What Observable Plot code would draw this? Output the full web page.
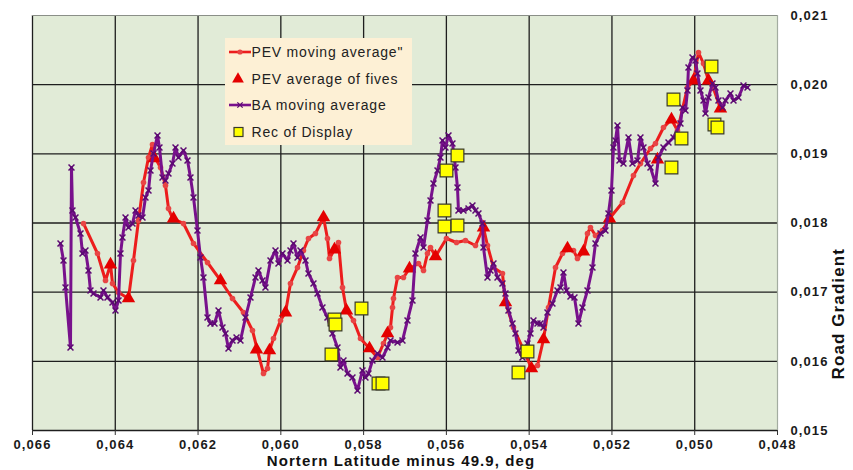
<!DOCTYPE html>
<html>
<head>
<meta charset="utf-8">
<script src="https://cdn.jsdelivr.net/npm/d3@7"></script>
<script src="https://cdn.jsdelivr.net/npm/@observablehq/plot@0.6"></script>
<style>
  body { margin: 0; background: #fff; }
  #wrap { position: relative; width: 853px; height: 470px; overflow: hidden; }
  #wrap > svg { display: block; }
</style>
</head>
<body>
<div id="wrap"></div>
<script>
// ---- data: [northern latitude minus 49.9 (deg), road gradient] ----
const pevMovingAverage = [
  [0.064768,0.017993],[0.06443,0.017559],[0.064236,0.017169],[0.064115,0.0174],[0.064067,0.017126],
  [0.063922,0.016995],[0.063681,0.016909],[0.06356,0.017458],[0.063439,0.018036],[0.063318,0.018586],
  [0.063197,0.018947],[0.063101,0.019135],[0.063028,0.018933],[0.062907,0.018803],[0.062787,0.018542],
  [0.062714,0.01821],[0.062618,0.018065],[0.062352,0.017993],[0.06211,0.017704],[0.061772,0.017429],
  [0.061458,0.017169],[0.061168,0.016909],[0.060902,0.016706],[0.060685,0.016446],[0.060564,0.016157],
  [0.060419,0.015824],[0.060322,0.015897],[0.060274,0.016157],[0.060177,0.01633],[0.060008,0.016591],
  [0.059887,0.016706],[0.059767,0.017126],[0.059597,0.017357],[0.059453,0.017603],[0.059332,0.017776],
  [0.059163,0.017848],[0.058969,0.01808],[0.058873,0.017776],[0.058824,0.017487],[0.058704,0.017617],
  [0.058607,0.017718],[0.05851,0.017068],[0.058414,0.016735],[0.058244,0.016591],[0.058075,0.01633],
  [0.057858,0.016186],[0.057665,0.016056],[0.05752,0.016258],[0.057351,0.016489],[0.057302,0.016778],
  [0.057278,0.016909],[0.057181,0.017212],[0.057037,0.017212],[0.056892,0.017342],[0.056674,0.017415],
  [0.056553,0.017313],[0.056457,0.017559],[0.056384,0.017646],[0.056263,0.017516],[0.055998,0.017776],
  [0.055756,0.017718],[0.055539,0.017747],[0.055297,0.017675],[0.055104,0.017935],[0.055007,0.017675],
  [0.054862,0.017357],[0.054645,0.01727],[0.054572,0.016851],[0.054379,0.016489],[0.054162,0.0162],
  [0.053944,0.015897],[0.053799,0.01594],[0.053654,0.016316],[0.053533,0.016778],[0.053364,0.017357],
  [0.053195,0.017559],[0.053098,0.017617],[0.052929,0.017603],[0.052833,0.017487],[0.052688,0.017588],
  [0.052591,0.017848],[0.052519,0.017935],[0.052398,0.017819],[0.052229,0.017892],[0.052059,0.018065],
  [0.051745,0.018297],[0.05148,0.018687],[0.051311,0.01886],[0.051069,0.019077],[0.050948,0.01915],
  [0.050755,0.019381],[0.050562,0.019496],[0.050417,0.019337],[0.050175,0.019959],[0.05003,0.02006],
  [0.049909,0.020465],[0.049788,0.020306],[0.049667,0.02006],[0.049547,0.019945],[0.049378,0.019655]
];

const pevAverageOfFives = [
  [0.064115,0.0174],[0.063681,0.016909],[0.063052,0.018933],[0.062593,0.018065],[0.061458,0.017169],
  [0.060588,0.016171],[0.060274,0.016157],[0.059887,0.016706],[0.058969,0.01808],[0.058704,0.017617],
  [0.058414,0.016735],[0.057858,0.016186],[0.057423,0.016403],[0.056892,0.017342],[0.056263,0.017516],
  [0.055104,0.017935],[0.054572,0.016851],[0.053944,0.015897],[0.053654,0.016316],[0.053074,0.017632],
  [0.052688,0.017588],[0.052059,0.018065],[0.0509,0.018918],[0.050562,0.019496],[0.05003,0.02006],
  [0.049667,0.02006],[0.049378,0.019655]
];

const baMovingAverage = [
  [0.065324,0.017704],[0.065251,0.017458],[0.065203,0.017068],[0.065082,0.0162],[0.065058,0.018803],
  [0.065034,0.018181],[0.064961,0.01808],[0.06484,0.017848],[0.064792,0.017559],[0.06472,0.017603],
  [0.064647,0.017313],[0.064599,0.017024],[0.064526,0.016981],[0.064357,0.016923],[0.064285,0.017024],
  [0.064188,0.016923],[0.064067,0.016851],[0.063995,0.016735],[0.063922,0.01688],[0.063874,0.017559],
  [0.063826,0.01779],[0.063753,0.01808],[0.063681,0.017935],[0.063584,0.017993],[0.063511,0.018181],
  [0.063439,0.018109],[0.063342,0.01808],[0.06327,0.018369],[0.063197,0.01847],[0.063149,0.018759],
  [0.063077,0.019005],[0.06298,0.019265],[0.062932,0.019092],[0.062859,0.018658],[0.062787,0.018615],
  [0.062714,0.018716],[0.062618,0.01886],[0.062545,0.019092],[0.062473,0.018947],[0.062352,0.019048],
  [0.062255,0.018904],[0.062183,0.018658],[0.06211,0.018369],[0.062014,0.017892],[0.061941,0.017501],
  [0.061869,0.017212],[0.061772,0.016634],[0.0617,0.016547],[0.061603,0.016547],[0.061506,0.016735],
  [0.06141,0.016489],[0.061337,0.016403],[0.061265,0.016186],[0.061168,0.016301],[0.061071,0.016345],
  [0.060975,0.016301],[0.060854,0.016634],[0.060733,0.016923],[0.060612,0.017212],[0.06054,0.017313],
  [0.060443,0.017169],[0.060371,0.017068],[0.06025,0.017458],[0.060129,0.017603],[0.060057,0.017415],
  [0.05996,0.017559],[0.059839,0.017458],[0.059767,0.017603],[0.059694,0.017704],[0.059597,0.017501],
  [0.059525,0.017603],[0.059404,0.017458],[0.059332,0.01727],[0.059211,0.017126],[0.059114,0.016981],
  [0.058994,0.016778],[0.058873,0.016634],[0.058752,0.016403],[0.058631,0.0162],[0.058559,0.015911],
  [0.058486,0.016012],[0.058389,0.015824],[0.058269,0.015766],[0.058148,0.015579],[0.058027,0.015868],
  [0.057955,0.015766],[0.057882,0.015824],[0.057786,0.016012],[0.057665,0.016113],[0.057544,0.016056],
  [0.057423,0.0162],[0.057351,0.016301],[0.057181,0.016272],[0.057061,0.016301],[0.05694,0.016591],
  [0.056819,0.01688],[0.056747,0.017559],[0.056626,0.01779],[0.056553,0.017646],[0.056457,0.018036],
  [0.056384,0.018325],[0.056312,0.018571],[0.056215,0.018759],[0.056143,0.018947],[0.056094,0.019193],
  [0.056022,0.019092],[0.055949,0.019265],[0.055853,0.01915],[0.05578,0.018803],[0.055732,0.018513],
  [0.055708,0.018181],[0.055587,0.018181],[0.055466,0.01821],[0.05537,0.018253],[0.055297,0.018181],
  [0.055225,0.018138],[0.055128,0.017993],[0.055104,0.017646],[0.055007,0.017212],[0.054935,0.017313],
  [0.054862,0.017415],[0.054765,0.017212],[0.054645,0.017126],[0.054572,0.016981],[0.0545,0.016735],
  [0.054403,0.016547],[0.054331,0.016403],[0.054258,0.016157],[0.054162,0.016056],[0.054041,0.016258],
  [0.053968,0.016403],[0.053896,0.016591],[0.053799,0.016547],[0.053727,0.016547],[0.053654,0.016489],
  [0.053558,0.016706],[0.053437,0.016836],[0.053316,0.017024],[0.053243,0.017068],[0.053171,0.017284],
  [0.053098,0.017024],[0.053002,0.016938],[0.052905,0.016923],[0.052809,0.016547],[0.052712,0.016778],
  [0.052591,0.017024],[0.05247,0.017357],[0.052398,0.017704],[0.052277,0.017848],[0.052156,0.017892],
  [0.052084,0.018138],[0.052011,0.01847],[0.051963,0.019092],[0.051915,0.019193],[0.051866,0.01941],
  [0.051818,0.018904],[0.051721,0.01886],[0.0516,0.019236],[0.051504,0.01886],[0.051383,0.018904],
  [0.051311,0.019236],[0.051238,0.019092],[0.051141,0.01886],[0.051069,0.018803],[0.050948,0.018571],
  [0.050876,0.018947],[0.050755,0.019092],[0.050634,0.019164],[0.050513,0.019236],[0.050344,0.019439],
  [0.050296,0.01967],[0.050223,0.019627],[0.050175,0.019916],[0.050151,0.020248],[0.050054,0.020393],
  [0.049982,0.020349],[0.049934,0.020161],[0.049861,0.019916],[0.049788,0.019771],[0.04974,0.019583],
  [0.049667,0.019815],[0.049571,0.020017],[0.049498,0.019959],[0.049426,0.019771],[0.049329,0.01967],
  [0.049257,0.019771],[0.049136,0.019872],[0.049063,0.019771],[0.048943,0.019815],[0.048822,0.019988],
  [0.048725,0.019959]
];

const recOfDisplay = [
  [0.058704,0.016605],[0.058679,0.016533],[0.058776,0.016099],[0.058051,0.016764],[0.05764,0.01568],
  [0.057544,0.01568],[0.055998,0.018759],[0.055732,0.018976],[0.056046,0.018181],[0.056046,0.01795],
  [0.055732,0.017964],[0.054258,0.015839],[0.054041,0.016142],[0.050562,0.018803],[0.050513,0.019786],
  [0.05032,0.019222],[0.049595,0.020263],[0.049523,0.019424],[0.04945,0.019381]
];

const xTicks = [0.066, 0.064, 0.062, 0.060, 0.058, 0.056, 0.054, 0.052, 0.050, 0.048];
const yTicks = [0.015, 0.016, 0.017, 0.018, 0.019, 0.020, 0.021];
const xTitle = "Nortern Latitude minus 49.9, deg";
const yTitle = "Road Gradient";
const legendLabels = ["PEV moving average\"", "PEV average of fives", "BA moving average", "Rec of Display"];

// ---- styling ----
const RED = "#ec1d1d", RED_DOT = "#e84545", TRI = "#e40000";
const PURPLE = "#78118c", PURPLE_MARK = "#5c0a72";
const BG = "#e1ebd7", GRID = "#1e1e1e";
const FONT = "'Liberation Sans', Arial, Helvetica, sans-serif";
const fmt = d => d3.format(".3f")(d).replace(".", ",");
const X = d => d[0], Y = d => d[1];

const chart = Plot.plot({
  width: 853, height: 470,
  marginLeft: 32, marginRight: 76, marginTop: 15, marginBottom: 40,
  style: { fontFamily: FONT, fontSize: "13px", fontWeight: "bold", color: "#1a1a1a", background: "#fff", letterSpacing: "1.1px" },
  x: { domain: [0.066, 0.048] },
  y: { domain: [0.015, 0.021] },
  marks: [
    Plot.frame({ fill: BG, stroke: null }),
    Plot.gridX(xTicks.slice(0, -1), { stroke: GRID, strokeOpacity: 1, strokeWidth: 1.3 }),
    Plot.gridY(yTicks.slice(0, -1), { stroke: GRID, strokeOpacity: 1, strokeWidth: 1.3 }),
    Plot.ruleX([0.048], { stroke: "#a3aca0", strokeWidth: 1.2 }),
    Plot.ruleY([0.021], { stroke: "#8a8f88", strokeWidth: 1.2 }),
    Plot.line(pevMovingAverage, { x: X, y: Y, stroke: RED, strokeWidth: 3 }),
    Plot.dot(pevMovingAverage, { x: X, y: Y, r: 2.8, fill: RED_DOT }),
    Plot.dot(pevAverageOfFives, { x: X, y: Y, symbol: "triangle", r: 5, fill: TRI }),
    Plot.line(baMovingAverage, { x: X, y: Y, stroke: PURPLE, strokeWidth: 3 }),
    Plot.dot(baMovingAverage, { x: X, y: Y, symbol: "times", r: 2.8, stroke: PURPLE_MARK, strokeWidth: 1.5 }),
    Plot.dot(recOfDisplay, { x: X, y: Y, symbol: "square", r: 7.2, fill: "#ffff00", stroke: "#3a3a2a", strokeWidth: 1.2 }),
    Plot.axisX({ ticks: xTicks, tickFormat: fmt, tickSize: 5, tickPadding: 4, label: null, stroke: "#333" }),
    Plot.axisY({ anchor: "right", ticks: yTicks, tickFormat: fmt, tickSize: 0, tickPadding: 13, label: null }),
    Plot.text([xTitle], { text: d => d, frameAnchor: "bottom", dy: 35, dx: -4, fontSize: 15, fontWeight: "bold", fill: "#111" }),
    Plot.text([yTitle], { text: d => d, frameAnchor: "right", dx: 61, dy: 25, rotate: -90, fontSize: 17, fontWeight: "bold", fill: "#111" })
  ]
});
const wrap = document.getElementById("wrap");
wrap.appendChild(chart);

// ---- legend box ----
const lg = d3.select(wrap).append("svg")
  .attr("width", 187).attr("height", 107)
  .style("position", "absolute").style("left", "225px").style("top", "38px");
lg.append("rect").attr("width", 187).attr("height", 107).attr("fill", "#fdf0d5");
const rowY = [14, 41, 67, 94];
// row 1: red line with dot
lg.append("line").attr("x1", 4).attr("x2", 26).attr("y1", rowY[0]).attr("y2", rowY[0]).attr("stroke", RED).attr("stroke-width", 2.6);
lg.append("circle").attr("cx", 15).attr("cy", rowY[0]).attr("r", 2.6).attr("fill", RED_DOT);
// row 2: triangle
lg.append("path").attr("d", d3.symbol(d3.symbolTriangle, 60)()).attr("transform", `translate(13,${rowY[1]})`).attr("fill", TRI);
// row 3: purple line with x marker
lg.append("line").attr("x1", 4).attr("x2", 26).attr("y1", rowY[2]).attr("y2", rowY[2]).attr("stroke", PURPLE).attr("stroke-width", 2.6);
lg.append("path").attr("d", d3.symbol(d3.symbolTimes, 20)()).attr("transform", `translate(15,${rowY[2]})`).attr("fill", "none").attr("stroke", PURPLE_MARK).attr("stroke-width", 1.3);
// row 4: yellow square
lg.append("rect").attr("x", 9).attr("y", rowY[3] - 4.5).attr("width", 9).attr("height", 9).attr("fill", "#ffff00").attr("stroke", "#3a3a2a").attr("stroke-width", 1.2);
lg.selectAll("text.lab").data(legendLabels).join("text")
  .attr("class", "lab")
  .attr("x", 26.5).attr("y", (d, i) => rowY[i]).attr("dy", "0.36em")
  .attr("font-family", FONT).attr("font-size", 14).attr("letter-spacing", "0.8px")
  .attr("fill", "#222")
  .text(d => d);
</script>
</body>
</html>
